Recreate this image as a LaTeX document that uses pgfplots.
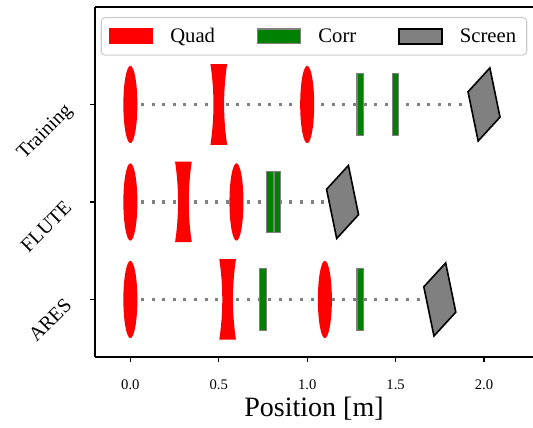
\documentclass[border=0pt]{standalone}
\usepackage{fontspec}
\setmainfont{Liberation Serif}
\usepackage{pgfplots}
\pgfplotsset{compat=1.18}

\pgfdeclareplotmark{focquad}{%
  \pgfpathellipse{\pgfpointorigin}{\pgfqpoint{5.25pt}{0pt}}{\pgfqpoint{0pt}{29pt}}%
  \pgfusepath{fill}}
\pgfdeclareplotmark{defquad}{%
  \pgfpathmoveto{\pgfqpoint{-6.25pt}{30.2pt}}%
  \pgfpathlineto{\pgfqpoint{6.25pt}{30.2pt}}%
  \pgfpathquadraticcurveto{\pgfqpoint{1.75pt}{0pt}}{\pgfqpoint{6.25pt}{-30.2pt}}%
  \pgfpathlineto{\pgfqpoint{-6.25pt}{-30.2pt}}%
  \pgfpathquadraticcurveto{\pgfqpoint{-1.75pt}{0pt}}{\pgfqpoint{-6.25pt}{30.2pt}}%
  \pgfpathclose
  \pgfusepath{fill}}
\pgfdeclareplotmark{corr}{%
  \pgfpathrectanglecorners{\pgfqpoint{-2.4pt}{-23.1pt}}{\pgfqpoint{2.4pt}{23.1pt}}%
  \pgfusepath{fill,stroke}}
\pgfdeclareplotmark{screen}{%
  \pgfpathmoveto{\pgfqpoint{-12.0pt}{9.5pt}}%
  \pgfpathlineto{\pgfqpoint{4.4pt}{27.4pt}}%
  \pgfpathlineto{\pgfqpoint{12.0pt}{-9.5pt}}%
  \pgfpathlineto{\pgfqpoint{-4.4pt}{-27.4pt}}%
  \pgfpathclose
  \pgfusepath{fill,stroke}}

\begin{document}
\begin{tikzpicture}
\begin{axis}[
  scale only axis, width=328.5pt, height=262.5pt,
  xmin=-0.2, xmax=2.277, ymin=-0.59, ymax=3.0,
  axis x line*=box, axis y line*=left,
  axis line style={-, line width=1pt, black},
  xtick pos=bottom, ytick pos=left,
  tick align=outside, major tick length=3.75pt,
  tick style={line width=0.8pt, black},
  xtick={0,0.5,1,1.5,2},
  xticklabel={\pgfmathprintnumber[fixed,fixed zerofill,precision=1]{\tick}},
  /pgf/number format/assume math mode=true,
  xticklabel style={font=\fontsize{11}{13}\selectfont, yshift=-10pt},
  ytick={0,1,2}, yticklabels={ARES,FLUTE,Training},
  yticklabel style={font=\fontsize{15}{18}\selectfont, xshift=-20pt, yshift=1.9pt, rotate=45, anchor=north east, inner sep=0pt},
  xlabel={Position [m]},
  xlabel style={font=\fontsize{21}{25}\selectfont, at={(axis description cs:0.5,0)}, anchor=base, yshift=-45pt},
  legend columns=3,
  legend style={at={(0.5,1)}, anchor=north, yshift=-7.5pt, draw=black!20,
    rounded corners=3pt, line width=0.8pt, font=\fontsize{15.5}{18}\selectfont,
    inner xsep=6pt, inner ysep=6pt,
    /tikz/every odd column/.append style={column sep=11pt},
    /tikz/every even column/.append style={column sep=29.5pt}},
]
\addplot[only marks, mark=focquad, mark options={fill=red, draw=none},
  legend image code/.code={\fill[red, sharp corners] (0pt,-5.6pt) rectangle (32pt,5.6pt);}]
  coordinates {(0,2) (1.0,2) (0,1) (0.6,1) (0,0) (1.1,0)};
\addlegendentry{Quad}
\addplot[only marks, mark=corr, mark options={fill={rgb,255:red,0;green,128;blue,0}, draw=gray, line width=0.9pt},
  legend image code/.code={\draw[sharp corners, fill={rgb,255:red,0;green,128;blue,0}, draw=gray, line width=1pt] (0pt,-5.6pt) rectangle (32pt,5.6pt);}]
  coordinates {(1.3,2) (1.5,2) (0.79,1) (0.83,1) (0.75,0) (1.3,0)};
\addlegendentry{Corr}
\addplot[only marks, mark=screen, mark options={fill=gray, draw=black, line width=1.2pt},
  legend image code/.code={\draw[sharp corners, fill=gray, draw=black, line width=1.2pt] (0pt,-5.6pt) rectangle (32pt,5.6pt);}]
  coordinates {(2.0,2) (1.2,1) (1.75,0)};
\addlegendentry{Screen}
\addplot[forget plot, only marks, mark=defquad, mark options={fill=red, draw=none}]
  coordinates {(0.5,2) (0.3,1) (0.55,0)};
\addplot[forget plot, gray, line width=2.3pt, dash pattern=on 2.3pt off 5.65pt] coordinates {(0,2) (1.9,2)};
\addplot[forget plot, gray, line width=2.3pt, dash pattern=on 2.3pt off 5.65pt] coordinates {(0,1) (1.1,1)};
\addplot[forget plot, gray, line width=2.3pt, dash pattern=on 2.3pt off 5.65pt] coordinates {(0,0) (1.65,0)};
\end{axis}
\pgfresetboundingbox
\path ([xshift=-71.25pt,yshift=-53.25pt]current axis.south west) rectangle ([yshift=5.25pt]current axis.north east);
\end{tikzpicture}
\end{document}
